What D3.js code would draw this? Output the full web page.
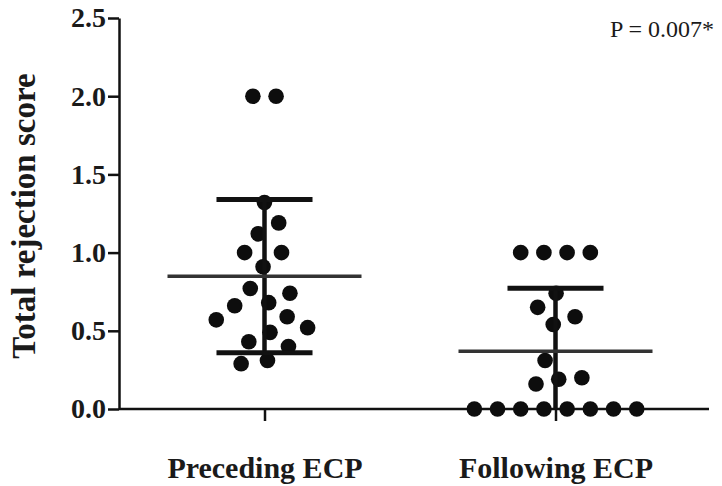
<!DOCTYPE html>
<html>
<head>
<meta charset="utf-8">
<script src="https://cdn.jsdelivr.net/npm/d3@7"></script>
<style>
  body { margin: 0; background: #fff; }
  svg { display: block; }
  text { font-family: "Liberation Serif", "Times New Roman", serif; fill: #1a1a1a; }
</style>
</head>
<body>
<div id="chart"></div>
<script>
// values
const groups = ["Preceding ECP", "Following ECP"];
const preceding = [2.0, 2.0, 1.32, 1.19, 1.12, 1.0, 1.0, 0.91, 0.77, 0.74,
                   0.68, 0.66, 0.59, 0.57, 0.52, 0.49, 0.43, 0.40, 0.31, 0.29];
const following = [1.0, 1.0, 1.0, 1.0, 0.74, 0.65, 0.59, 0.54, 0.31, 0.20,
                   0.19, 0.16, 0, 0, 0, 0, 0, 0, 0, 0];
const yTicks = [0, 0.5, 1.0, 1.5, 2.0, 2.5];
const yTitle = "Total rejection score";
const pText = "P = 0.007*";

const W = 722, H = 486;
const margin = {top: 18, right: 13, bottom: 77, left: 119};
const width = W - margin.left - margin.right,
      height = H - margin.top - margin.bottom;

const svg = d3.select("#chart").append("svg")
    .attr("width", W)
    .attr("height", H)
  .append("g")
    .attr("transform", "translate(" + margin.left + "," + margin.top + ")");

const x = d3.scalePoint().domain(groups).range([0, 582]).padding(0.5);
const y = d3.scaleLinear().domain([0, 2.5]).range([height, 0]);

// axes
const yAxis = svg.append("g")
    .call(d3.axisLeft(y).tickValues(yTicks).tickFormat(d3.format(".1f"))
      .tickSize(11).tickSizeOuter(0).tickPadding(2));
yAxis.selectAll("text").style("font-size", "28px").style("font-weight", "bold");

const xAxis = svg.append("g")
    .attr("transform", "translate(0," + height + ")")
    .call(d3.axisBottom(x).tickSize(12).tickSizeOuter(0).tickPadding(36));
// the x axis line runs on past the last group
xAxis.select(".domain").attr("d", "M0,0H" + width);
xAxis.selectAll("text").style("font-size", "30px").style("font-weight", "bold");

svg.selectAll(".domain, .tick line").attr("stroke", "#111").attr("stroke-width", 2.5);

// y title
svg.append("text")
    .attr("transform", "rotate(-90)")
    .attr("x", -(216 - margin.top))
    .attr("y", 35 - margin.left)
    .attr("text-anchor", "middle")
    .style("font-size", "33px")
    .style("font-weight", "bold")
    .text(yTitle);

svg.append("text")
    .attr("x", 610 - margin.left)
    .attr("y", 37 - margin.top)
    .style("font-size", "24px")
    .text(pText);

// beeswarm: y fixed at the value, x pushed apart
function swarm(values, cx) {
  const nodes = values.map((v, i) => ({v: v, x: cx + ((i * 7) % 11 - 5), y: y(v), fy: y(v)}));
  const sim = d3.forceSimulation(nodes)
      .force("x", d3.forceX(cx).strength(0.06))
      .force("collide", d3.forceCollide(11.6).iterations(4))
      .stop();
  for (let i = 0; i < 400; i++) sim.tick();
  return nodes;
}

const series = [preceding, following];
const step = x.step();

series.forEach((vals, gi) => {
  const cx = x(groups[gi]);
  const m = d3.mean(vals), sd = d3.deviation(vals);
  const g = svg.append("g");

  g.selectAll("circle")
    .data(swarm(vals, cx))
    .join("circle")
      .attr("cx", d => d.x)
      .attr("cy", d => d.y)
      .attr("r", 7.8)
      .attr("fill", "#0d0d0d");

  // mean +/- SD, cut off at the axis
  const lo = Math.max(0, m - sd), hi = m + sd;
  g.append("line")
      .attr("x1", cx).attr("x2", cx)
      .attr("y1", y(lo)).attr("y2", y(hi))
      .attr("stroke", "#111").attr("stroke-width", 4.5);
  [hi].concat(m - sd > 0 ? [m - sd] : []).forEach(v => {
    g.append("line")
        .attr("x1", cx - step * 0.165).attr("x2", cx + step * 0.165)
        .attr("y1", y(v)).attr("y2", y(v))
        .attr("stroke", "#111").attr("stroke-width", 5);
  });
  g.append("line")
      .attr("x1", cx - step / 3).attr("x2", cx + step / 3)
      .attr("y1", y(m)).attr("y2", y(m))
      .attr("stroke", "#333").attr("stroke-width", 3.5);
});
</script>
</body>
</html>
